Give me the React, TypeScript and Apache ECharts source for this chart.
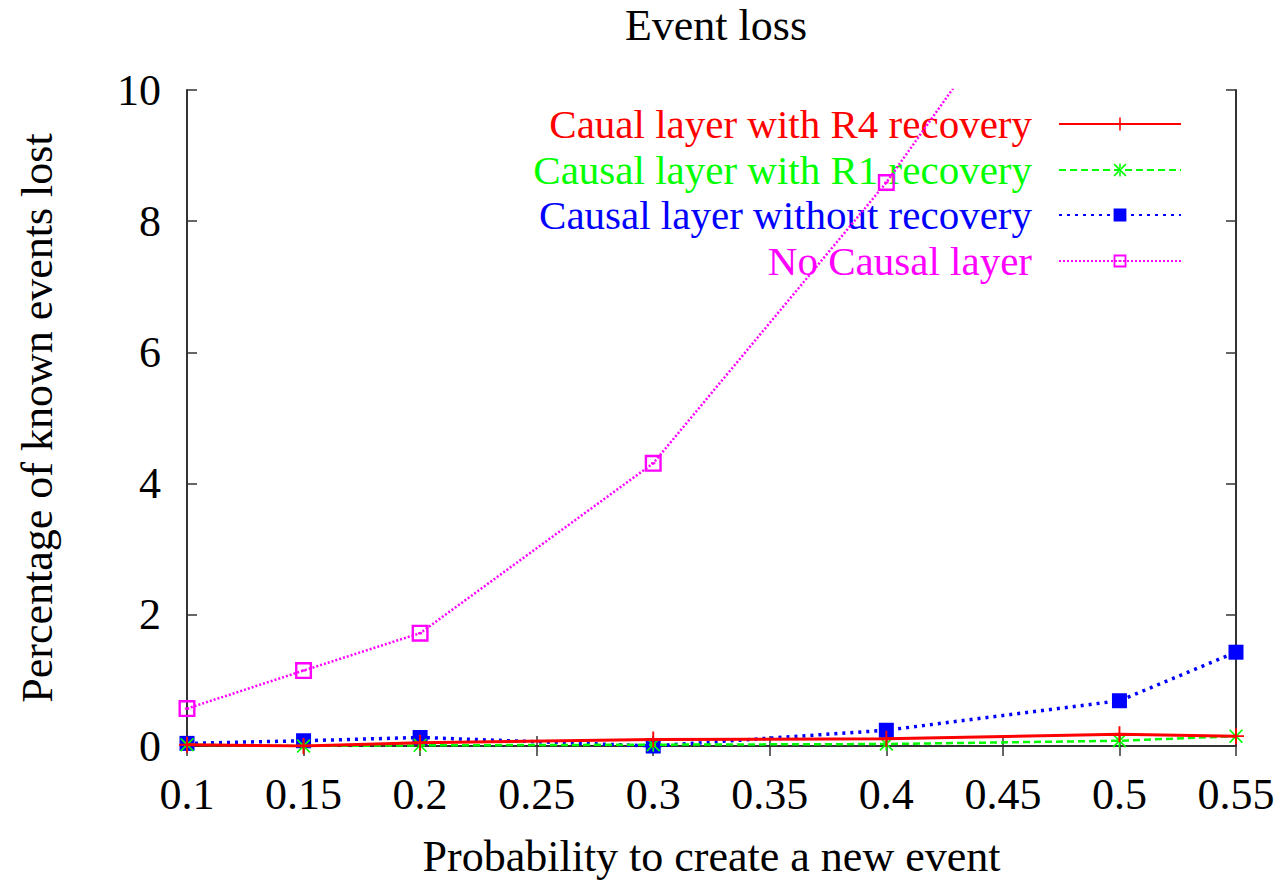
import React, { useEffect, useRef } from "react";
import * as echarts from "echarts";

const xValues = [0.1, 0.15, 0.2, 0.3, 0.4, 0.5, 0.55];
const seriesNames = [
  "Caual layer with R4 recovery",
  "Causal layer with R1 recovery",
  "Causal layer without recovery",
  "No Causal layer",
];
const r4Values = [0.02, 0.0, 0.05, 0.1, 0.11, 0.18, 0.15];
const r1Values = [0.02, 0.0, 0.01, 0.02, 0.03, 0.08, 0.15];
const noRecoveryValues = [0.04, 0.08, 0.13, 0.0, 0.24, 0.69, 1.43];
const noCausalValues = [0.57, 1.15, 1.72, 4.31, 8.59, 13.6, 17.0];
const colors = ["#ff0000", "#00ff00", "#0000ff", "#ff00ff"];

const FONT = "Liberation Serif";
const FS = 44;
const LEGEND_FS = 41;

const plusSym = "path://M-0.12,-1H0.12V1H-0.12Z M-1,-0.12H1V0.12H-1Z";
const crossSym =
  "path://M-1,-0.83L-0.83,-1L1,0.83L0.83,1Z M1,-0.83L0.83,-1L-1,0.83L-0.83,1Z M-0.12,-1H0.12V1H-0.12Z";
const hollowSq =
  "path://M-1,-1H1V1H-1Z M-0.72,-0.72V0.72H0.72V-0.72Z M-0.25,-0.12H0.25V0.12H-0.25Z";

export default function App() {
  const ref = useRef<HTMLDivElement>(null);
  useEffect(() => {
    if (!ref.current) return;
    const chart = echarts.init(ref.current, null, { renderer: "svg" });
    const mk = (vals: number[]) => xValues.map((x, i) => [x, vals[i]]);
    const symbols = [plusSym, crossSym, "rect", hollowSq];
    const sizes = [16, 14, 15, 17];
    const dashes: any[] = ["solid", [7, 4], [3, 5], [2, 2]];
    const widths = [3, 2.5, 3.5, 2.5];
    const datas = [r4Values, r1Values, noRecoveryValues, noCausalValues];
    const legendTops = [98, 144, 189, 235];
    const fmt = (v: number) => String(+v.toFixed(2));
    const axisLine = { show: true, lineStyle: { color: "#333", width: 2 } };
    const tick = { inside: true, length: 10, lineStyle: { color: "#333", width: 1.5 } };
    chart.setOption({
      animation: false,
      backgroundColor: "#ffffff",
      title: {
        text: "Event loss",
        left: 711,
        top: -2,
        textAlign: "center",
        textStyle: { fontFamily: FONT, fontSize: FS, fontWeight: "normal", color: "#000" },
      },
      grid: { left: 187, right: 47, top: 90, bottom: 132, containLabel: false },
      legend: seriesNames.map((n, i) => ({
        data: [n],
        right: 96,
        top: legendTops[i],
        align: "right",
        orient: "vertical",
        itemWidth: 122,
        itemHeight: 16,
        textStyle: {
          fontFamily: FONT,
          fontSize: LEGEND_FS,
          lineHeight: 42,
          color: colors[i],
          padding: [0, 22, 0, 0],
        },
        selectedMode: false,
      })),
      xAxis: [
        {
          type: "value",
          min: 0.1,
          max: 0.55,
          interval: 0.05,
          position: "bottom",
          axisLine,
          axisTick: tick,
          axisLabel: {
            formatter: fmt,
            fontFamily: FONT,
            fontSize: FS,
            color: "#000",
            margin: 26,
          },
          splitLine: { show: false },
          name: "Probability to create a new event",
          nameLocation: "middle",
          nameGap: 88,
          nameTextStyle: { fontFamily: FONT, fontSize: FS, color: "#000" },
        },
        {
          type: "value",
          min: 0.1,
          max: 0.55,
          interval: 0.05,
          position: "top",
          axisLine,
          axisTick: tick,
          axisLabel: { show: false },
          splitLine: { show: false },
        },
      ],
      yAxis: [
        {
          type: "value",
          min: 0,
          max: 10,
          interval: 2,
          position: "left",
          axisLine,
          axisTick: tick,
          axisLabel: { fontFamily: FONT, fontSize: FS, color: "#000", margin: 26 },
          splitLine: { show: false },
          name: "Percentage of known events lost",
          nameLocation: "middle",
          nameGap: 128,
          nameTextStyle: { fontFamily: FONT, fontSize: FS, color: "#000" },
        },
        {
          type: "value",
          min: 0,
          max: 10,
          interval: 2,
          position: "right",
          axisLine,
          axisTick: tick,
          axisLabel: { show: false },
          splitLine: { show: false },
        },
      ],
      series: seriesNames.map((n, i) => ({
        name: n,
        type: "line",
        data: mk(datas[i]),
        xAxisIndex: 0,
        yAxisIndex: 0,
        clip: true,
        symbol: symbols[i],
        symbolSize: sizes[i],
        showAllSymbol: true,
        z: 10 - i,
        lineStyle: { color: colors[i], width: widths[i], type: dashes[i] },
        itemStyle: { color: colors[i], borderWidth: 0 },
      })),
    });
    return () => chart.dispose();
  }, []);
  return (
    <div
      ref={ref}
      style={{ position: "fixed", left: 0, top: 0, width: 1283, height: 883 }}
    />
  );
}
